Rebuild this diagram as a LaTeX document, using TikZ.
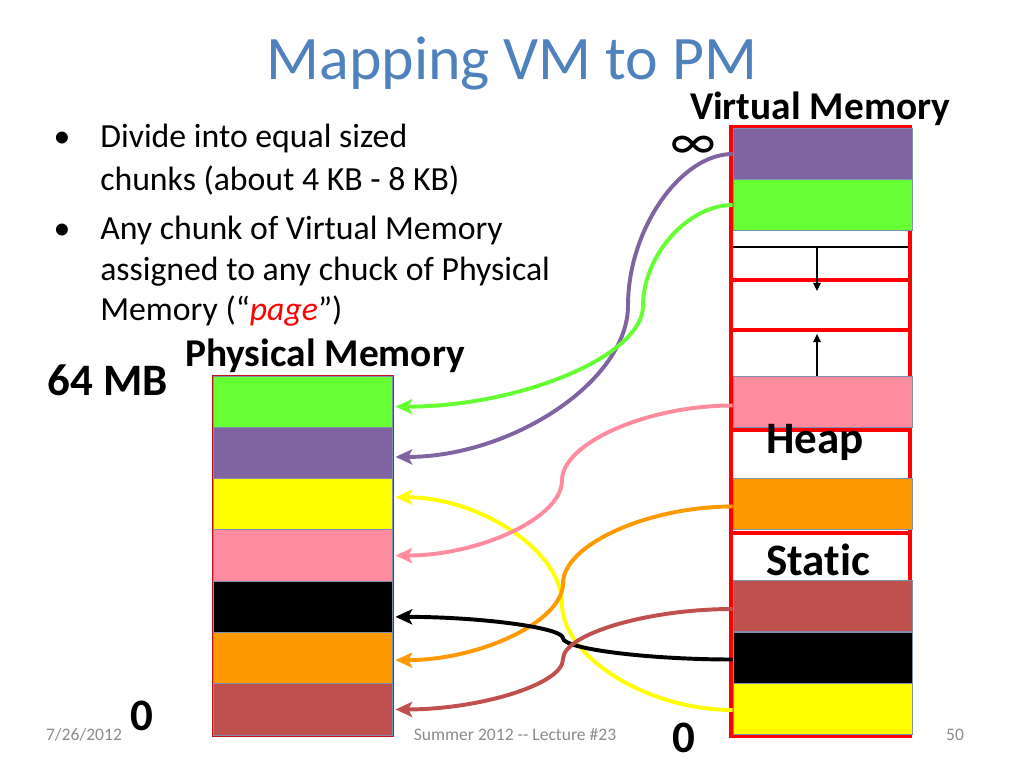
\documentclass[tikz,border=0pt]{standalone}
\usepackage{fontspec}
\setmainfont{Carlito}[Ligatures=NoCommon]
\usetikzlibrary{arrows.meta,calc}
\definecolor{titleblue}{HTML}{4F81BD}
\definecolor{mgreen}{HTML}{66FF33}
\definecolor{mpurple}{HTML}{8064A2}
\definecolor{myellow}{HTML}{FFFF00}
\definecolor{mpink}{HTML}{FF8B9F}
\definecolor{mblack}{HTML}{000000}
\definecolor{morange}{HTML}{FF9900}
\definecolor{mbrown}{HTML}{C0504D}
\definecolor{blkedge}{HTML}{7F8FAF}
\definecolor{footgray}{HTML}{8B8B8B}
\definecolor{vmred}{HTML}{FF0000}
\definecolor{pmred}{HTML}{C0101A}
\tikzset{
  blk/.style={draw=blkedge,line width=0.6pt,minimum width=4.475cm,minimum height=1.2825cm,inner sep=0pt},
  bodytext/.style={font=\fontsize{24}{28}\selectfont,anchor=base west,inner sep=0pt},
  biglabel/.style={font=\fontsize{28}{32}\selectfont\bfseries,inner sep=0pt},
  hugelabel/.style={font=\fontsize{32}{36}\selectfont\bfseries,inner sep=0pt},
  foot/.style={font=\fontsize{12.5}{14}\selectfont,text=footgray,inner sep=0pt},
  maparr/.style={-{Stealth[length=4.2mm,width=3.8mm,inset=1mm]},line width=2.8pt},
  redline/.style={draw=vmred,line width=2.8pt},
  growarr/.style={-{Triangle[length=2mm,width=1.8mm]},line width=1.4pt},
}
% curved connector: from, to, x of the vertical middle part (px), colour
\newcommand{\vmap}[4]{\draw[maparr,#4] let \p1=(#1), \p2=(#2) in
  (\p1) .. controls ({(#3*0.025cm+\x1)/2},\y1) and ({#3*0.025cm},{0.75*\y1+0.25*\y2}) .. ({#3*0.025cm},{0.5*\y1+0.5*\y2})
  .. controls ({#3*0.025cm},{0.25*\y1+0.75*\y2}) and ({(#3*0.025cm+\x2)/2},\y2) .. (\p2);}
\begin{document}
\begin{tikzpicture}[x=0.025cm,y=-0.025cm]
  \useasboundingbox (0,0) rectangle (1024,768);
  \node[font=\fontsize{44}{50}\selectfont,text=titleblue] (title) at (512,64) {Mapping VM to PM};
  % bullets
  \node[bodytext,anchor=base] (dot1) at (62,148) {•};
  \node[bodytext,anchor=base] (dot2) at (62,239) {•};
  \foreach \y/\t [count=\i] in {148/{Divide into equal sized},190/{chunks (about 4 KB - 8 KB)},
      239/{Any chunk of Virtual Memory},280/{assigned to any chuck of Physical},
      320/{Memory (“\textcolor{red}{\textit{page}}”)}}
    \node[bodytext] (line\i) at (100,\y) {\t};
  % physical memory
  \draw[pmred,line width=1.2pt] (213,376) rectangle (393,736);
  \foreach \c [count=\i from 0] in {green,purple,yellow,pink,black,orange,brown}
    \node[blk,fill=m\c] (pm-\c) at (302.5,{401.65+51.3*\i}) {};
  \node[biglabel,anchor=base] (pmlabel) at (325,366) {Physical Memory};
  \node[hugelabel,anchor=base] (pmtop) at (108,395) {64 MB};
  \node[hugelabel,anchor=base] (pmzero) at (142,730) {0};
  % virtual memory
  \draw[redline] (731,127) rectangle (910,736);
  \foreach \y in {280,330,430,533}
    \draw[redline] (731,\y) -- (910,\y);
  \foreach \c/\y in {purple/154,green/205,pink/401.5,orange/503.5,brown/606,black/657.5,yellow/709}
    \node[blk,fill=m\c,minimum height=1.275cm] (vm-\c) at (822.5,\y) {};
  \coordinate (stackL) at (733,247);
  \coordinate (stackR) at (908,247);
  \draw[line width=2pt] (stackL) -- (stackR);
  \coordinate (stacktip) at (817,291);
  \coordinate (heaptop) at (817,376);
  \coordinate (heaptip) at (817,334);
  \draw[growarr] ($(stackL)!0.48!(stackR)$) -- (stacktip);
  \draw[growarr] (heaptop) -- (heaptip);
  \node[hugelabel] (heap) at (815,442) {Heap};
  \node[hugelabel] (static) at (818,560) {Static};
  \node[biglabel,anchor=base] (vmlabel) at (820,120) {Virtual Memory};
  \node[font=\fontsize{38}{40}\selectfont,inner sep=0pt] (inf) at (693,148) {∞};
  \node[hugelabel,anchor=base] (vmzero) at (684,752) {0};
  % mappings
  \vmap{$(vm-yellow.west)+(0,1)$}{$(pm-yellow.east)+(3,-7)$}{562}{myellow}
  \vmap{vm-purple.west}{$(pm-purple.east)+(3,4)$}{628}{mpurple}
  \vmap{vm-green.west}{$(pm-green.east)+(3,5)$}{643}{mgreen}
  \vmap{$(vm-pink.west)+(0,4)$}{$(pm-pink.east)+(3,0)$}{562}{mpink}
  \vmap{$(vm-orange.west)+(0,3)$}{$(pm-orange.east)+(3,2)$}{563}{morange}
  \vmap{$(vm-black.west)+(0,2)$}{$(pm-black.east)+(3,10)$}{563}{mblack}
  \vmap{$(vm-brown.west)+(0,3)$}{$(pm-brown.east)+(3,0)$}{563}{mbrown}
  % footer
  \node[foot] (date) at (84,735) {7/26/2012};
  \node[foot] (course) at (515,735) {Summer 2012 {-}{-} Lecture \#23};
  \node[foot] (slideno) at (955,735) {50};
\end{tikzpicture}
\end{document}
